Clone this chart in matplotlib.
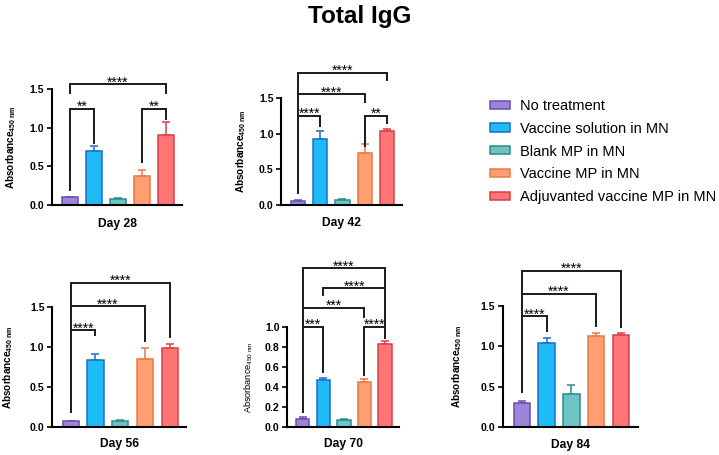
import matplotlib.pyplot as plt
from matplotlib.patches import Patch

plt.rcParams['font.family'] = ['Liberation Sans', 'DejaVu Sans']
plt.rcParams['mathtext.fontset'] = 'custom'
plt.rcParams['mathtext.rm'] = 'Liberation Sans'
plt.rcParams['mathtext.bf'] = 'Liberation Sans:bold'
plt.rcParams['mathtext.it'] = 'Liberation Sans:italic'

groups = ["No treatment", "Vaccine solution in MN", "Blank MP in MN",
          "Vaccine MP in MN", "Adjuvanted vaccine MP in MN"]
fill_colors = ["#9d84d6", "#1ebbf7", "#6ec3c6", "#ff9f70", "#ff7576"]
edge_colors = ["#6a4fb0", "#1c6dc7", "#2e8b8b", "#e8794a", "#d9404a"]

days = ["Day 28", "Day 42", "Day 56", "Day 70", "Day 84"]

# bar heights and upper error (SD)
means_d28 = [0.10, 0.70, 0.08, 0.38, 0.91]
err_d28 = [0.01, 0.07, 0.005, 0.08, 0.16]
means_d42 = [0.065, 0.93, 0.08, 0.73, 1.04]
err_d42 = [0.005, 0.11, 0.005, 0.12, 0.03]
means_d56 = [0.075, 0.835, 0.08, 0.845, 0.99]
err_d56 = [0.005, 0.075, 0.005, 0.135, 0.04]
means_d70 = [0.08, 0.47, 0.075, 0.45, 0.83]
err_d70 = [0.025, 0.02, 0.005, 0.03, 0.03]
means_d84 = [0.30, 1.04, 0.405, 1.13, 1.14]
err_d84 = [0.025, 0.06, 0.115, 0.03, 0.03]

# significance brackets: (left bar, right bar, line y, left leg end, right leg end, label)
sig_d28 = [(0, 1, 1.25, 0.19, 0.80, "**"), (3, 4, 1.25, 0.56, 1.12, "**"),
           (0, 4, 1.565, 1.45, 1.45, "****")]
sig_d42 = [(0, 1, 1.245, 0.17, 1.10, "****"), (3, 4, 1.245, 0.82, 1.15, "**"),
           (0, 3, 1.547, 1.245, 1.445, "****"), (0, 4, 1.85, 1.547, 1.75, "****")]
sig_d56 = [(0, 1, 1.205, 0.19, 1.147, "****"), (0, 3, 1.504, 1.205, 1.07, "****"),
           (0, 4, 1.80, 1.504, 1.126, "****")]
sig_d70 = [(0, 1, 1.0, 0.156, 0.553, "***"), (3, 4, 1.0, 0.52, 0.89, "****"),
           (0, 3, 1.19, 1.0, 1.10, "***"), (1, 4, 1.38, 1.32, 1.0, "****"),
           (0, 4, 1.58, 1.19, 1.38, "****")]
sig_d84 = [(0, 1, 1.372, 0.43, 1.19, "****"), (0, 3, 1.65, 1.372, 1.256, "****"),
           (0, 4, 1.94, 1.65, 1.24, "****")]

yticks_std = [0.0, 0.5, 1.0, 1.5]
yticks_d70 = [0.0, 0.2, 0.4, 0.6, 0.8, 1.0]

W, H = 719, 455
fig = plt.figure(figsize=(W / 100, H / 100), dpi=100)

# pixel layout: left, axis-bottom, width, height, ylabel offset, xlabel offset
panels = [
    (days[0], means_d28, err_d28, sig_d28, yticks_std, (52, 205, 130, 115.7), 41, 19),
    (days[1], means_d42, err_d42, sig_d42, yticks_std, (281.3, 205.3, 120.6, 107.6), 40, 18),
    (days[2], means_d56, err_d56, sig_d56, yticks_std, (52.1, 427, 134.4, 120.3), 44, 17),
    (days[3], means_d70, err_d70, sig_d70, yticks_d70, (287.2, 427.3, 111.7, 100.6), 38, 17),
    (days[4], means_d84, err_d84, sig_d84, yticks_std, (503, 427, 135, 121), 46, 18),
]

x = list(range(len(groups)))
for day, means, errs, sigs, yticks, rect, ylab_off, xlab_off in panels:
    l, b, w, h = rect
    ax = fig.add_axes([l / W, (H - b) / H, w / W, h / H])
    ax.bar(x, means, width=0.65, color=fill_colors, edgecolor=edge_colors,
           linewidth=1.1, zorder=2)
    for xi, m, e, ec in zip(x, means, errs, edge_colors):
        ax.errorbar(xi, m, yerr=[[0], [e]], fmt='none', ecolor=ec,
                    elinewidth=1.1, capsize=3, capthick=1.1, zorder=1)
    ax.set_xlim(-0.75, 4.67)
    ax.set_ylim(0, yticks[-1])
    ax.set_yticks(yticks)
    ax.set_yticklabels([f"{t:.1f}" for t in yticks], fontsize=7.6, fontweight='bold')
    ax.set_xticks([])
    ax.tick_params(axis='y', length=3.5, width=1.2, pad=2)
    for s in ['top', 'right']:
        ax.spines[s].set_visible(False)
    for s in ['left', 'bottom']:
        ax.spines[s].set_linewidth(1.5)
    ax.patch.set_alpha(0)

    small = day == "Day 70"
    ax.annotate(r"Absorbance$_{\mathbf{450\ nm}}$" if not small else r"Absorbance$_{\mathrm{450\ nm}}$",
                xy=(0, 0.5), xycoords='axes fraction',
                xytext=(-ylab_off * 0.72, 0), textcoords='offset points',
                rotation=90, ha='center', va='center',
                fontsize=6.6 if small else 7.2,
                fontweight='normal' if small else 'bold')
    ax.annotate(day, xy=(0.5, 0), xycoords='axes fraction',
                xytext=(0, -xlab_off * 0.72), textcoords='offset points',
                ha='center', va='center', fontsize=8.7, fontweight='bold')

    for i, j, yl, ya, yb, lab in sigs:
        ax.plot([i, i, j, j], [ya, yl, yl, yb], color='#1a1a1a', lw=1.4,
                clip_on=False, solid_joinstyle='miter', zorder=3)
        ax.annotate(lab, xy=((i + j) / 2, yl), xycoords='data',
                    xytext=(0, -1.5), textcoords='offset points',
                    ha='center', va='baseline', fontsize=10, fontweight='normal',
                    annotation_clip=False)

fig.text(0.5, 1 - 17 / H, "Total IgG", ha='center', va='center',
         fontsize=17.5, fontweight='bold')

handles = [Patch(facecolor=fc, edgecolor=ec, linewidth=1.1)
           for fc, ec in zip(fill_colors, edge_colors)]
fig.legend(handles, groups, loc='upper left', bbox_to_anchor=(490 / W, 1 - 99 / H),
           frameon=False, fontsize=10.5, handlelength=1.37, handleheight=0.5,
           handletextpad=0.7, labelspacing=0.6, borderpad=0, borderaxespad=0)

fig.savefig("out.png", dpi=100)
